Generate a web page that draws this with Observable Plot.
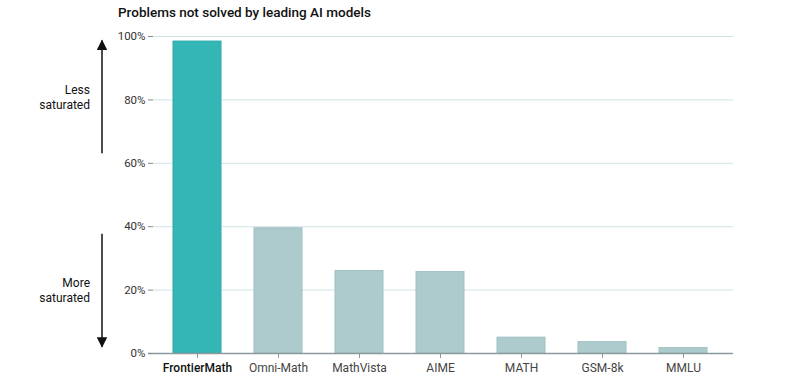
<!DOCTYPE html>
<html>
<head>
<meta charset="utf-8">
<script src="https://cdn.jsdelivr.net/npm/d3@7"></script>
<script src="https://cdn.jsdelivr.net/npm/@observablehq/plot@0.6"></script>
<style>
  html, body { margin: 0; padding: 0; background: #fff; }
  body { width: 800px; height: 384px; overflow: hidden; font-family: Roboto, "Noto Sans", sans-serif; }
  #title { height: 24px; line-height: 24px; padding-left: 118px; font-size: 13.5px; font-weight: 500; color: #111; }
  #chart svg { display: block; }
</style>
</head>
<body>
<div id="title">Problems not solved by leading AI models</div>
<div id="chart"></div>
<script>
const benchmarks = ["FrontierMath", "Omni-Math", "MathVista", "AIME", "MATH", "GSM-8k", "MMLU"];
const unsolved = [98.4, 39.5, 26.0, 25.7, 5.0, 3.6, 1.7];
const highlighted = "FrontierMath";
const yTicks = [0, 20, 40, 60, 80, 100];
const annotations = [
  {lines: ["Less", "saturated"], from: 63, to: 98.6},
  {lines: ["More", "saturated"], from: 37.6, to: 2}
];

const rows = benchmarks.map((b, i) => ({benchmark: b, value: unsolved[i], hi: b === highlighted}));
const others = benchmarks.filter(b => b !== highlighted);

const plot = Plot.plot({
  width: 800,
  height: 360,
  marginLeft: 153,
  marginRight: 67,
  marginTop: 12,
  marginBottom: 31,
  style: {fontFamily: "Roboto, 'Noto Sans', sans-serif", fontSize: "12px", color: "#333"},
  x: {domain: benchmarks, paddingInner: 0.41, paddingOuter: 0.263, align: 0.44, label: null},
  y: {domain: [0, 100], label: null},
  marks: [
    Plot.gridY(yTicks, {stroke: "#cfe5e6", strokeOpacity: 1, strokeWidth: 1}),
    Plot.barY(rows, {
      x: "benchmark", y: "value",
      fill: d => d.hi ? "#35b6b6" : "#adcbcc",
      stroke: d => d.hi ? "#2daaaa" : "#a0c0c1",
      strokeWidth: 1
    }),
    Plot.ruleY([0], {stroke: "#8b9a9c", strokeWidth: 1.5, insetLeft: -5}),
    Plot.axisY(yTicks, {tickFormat: d => d + "%", tickSize: 5, tickPadding: 3, stroke: "#888", fill: "#333", fontSize: 11.5, label: null}),
    Plot.axisX(others, {tickSize: 5, tickPadding: 5, stroke: "#8b9a9c", fill: "#444", label: null}),
    Plot.axisX([highlighted], {tickSize: 5, tickPadding: 5, stroke: "#8b9a9c", fill: "#111", fontWeight: 500, label: null})
  ]
});

document.getElementById("chart").append(plot);

// Saturation annotations in the left margin, positioned via the plot's y scale
const yScale = plot.scale("y");
const svg = d3.select(plot);
svg.append("defs").html(
  '<marker id="ah" viewBox="0 0 10 10" refX="9" refY="5" markerWidth="7" markerHeight="7" orient="auto-start-reverse"><path d="M0,0L10,5L0,10z" fill="#111"/></marker>'
);
const ax = 102;
annotations.forEach(a => {
  const y0 = yScale.apply(a.from), y1 = yScale.apply(a.to);
  svg.append("line")
    .attr("x1", ax).attr("x2", ax).attr("y1", y0).attr("y2", y1)
    .attr("stroke", "#111").attr("stroke-width", 1.5)
    .attr("marker-end", "url(#ah)");
  const mid = (y0 + y1) / 2;
  const t = svg.append("text")
    .attr("text-anchor", "end")
    .attr("font-size", "12px")
    .attr("fill", "#111")
    .attr("font-family", "Roboto, 'Noto Sans', sans-serif");
  a.lines.forEach((l, i) => {
    t.append("tspan").attr("x", 90).attr("y", mid + (i - (a.lines.length - 1) / 2) * 15).attr("dy", "0.35em").text(l);
  });
});
</script>
</body>
</html>
